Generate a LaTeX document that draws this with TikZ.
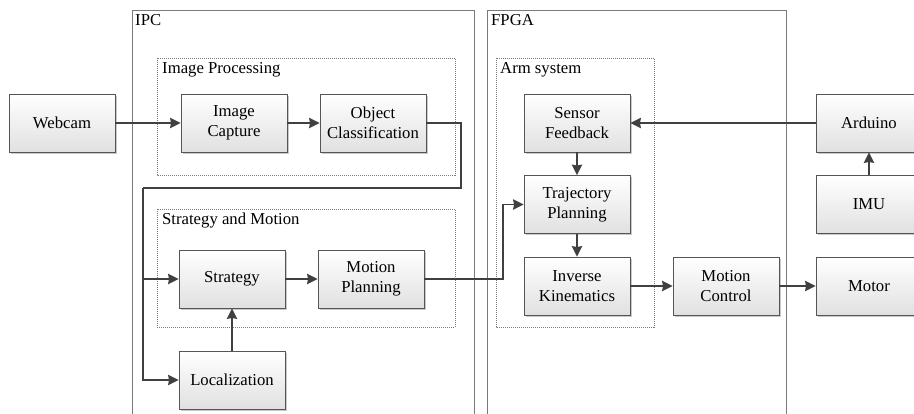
\documentclass[tikz,border=0pt]{standalone}
\usepackage{fontspec}
\setmainfont{Liberation Serif}
\usetikzlibrary{arrows.meta,shadows}

\definecolor{edgegray}{HTML}{555555}
\definecolor{wiregray}{HTML}{404040}
\definecolor{framegray}{HTML}{7A7A7A}

\tikzset{
  txt/.style={font=\fontsize{16.7}{20}\selectfont},
  block/.style={txt, draw=edgegray, line width=0.9pt,
    top color=white, bottom color=black!12,
    minimum width=106pt, minimum height=58pt, align=center, inner sep=0pt,
    drop shadow={shadow xshift=1.6pt, shadow yshift=-1.6pt, fill=black!35, opacity=0.6}},
  wire/.style={draw=wiregray, line width=1.4pt},
  flow/.style={wire, -{Stealth[length=10.5pt,width=10.5pt,inset=1pt]}},
  unit/.style={draw=framegray, line width=0.9pt},
  group/.style={draw=framegray, line width=0.7pt, dash pattern=on 1pt off 1pt},
  caption/.style={txt, anchor=base west, inner sep=0pt},
}

\begin{document}
\begin{tikzpicture}[x=1pt,y=-1pt]
\clip (0,0) rectangle (914,414);
\fill[white] (0,0) rectangle (914,414);

% hardware units (open at the bottom)
\draw[unit] (132,430) -- (132,10) -- (474,10) -- (474,430);
\draw[unit] (487,430) -- (487,10) -- (786,10) -- (786,430);
\node[caption] (ipc) at (135,26) {IPC};
\node[caption] (fpga) at (491,26) {FPGA};

% software groups
\draw[group] (157,58) rectangle (455,175);
\draw[group] (157,209) rectangle (455,327);
\draw[group] (496,58) rectangle (654,327);
\node[caption] (gimg) at (162,74) {Image Processing};
\node[caption] (gstr) at (162,225) {Strategy and Motion};
\node[caption] (garm) at (500,74) {Arm system};

% blocks
\node[block] (webcam) at (62,123) {Webcam};
\node[block] (cap)    at (234,123) {Image\\Capture};
\node[block] (cls)    at (373,123) {Object\\Classification};
\node[block] (strat)  at (232,279) {Strategy};
\node[block] (mplan)  at (371,279) {Motion\\Planning};
\node[block] (loc)    at (232,380) {Localization};
\node[block] (sens)   at (577,123) {Sensor\\Feedback};
\node[block] (traj)   at (577,204.5) {Trajectory\\Planning};
\node[block] (ik)     at (577,286) {Inverse\\Kinematics};
\node[block] (mctl)   at (726,286) {Motion\\Control};
\node[block] (ard)    at (869,123) {Arduino};
\node[block] (imu)    at (869,204.5) {IMU};
\node[block] (motor)  at (869,286) {Motor};

% routing points
\coordinate (r1) at (461,188);
\coordinate (l1) at (143,188);
\coordinate (b1) at (503,279);

% connectors
\draw[flow] (webcam) -- (cap);
\draw[flow] (cap) -- (cls);
\draw[wire] (cls.east) -| (r1) -- (l1);
\draw[flow] (l1) |- (strat.west);
\draw[flow] (l1) |- (loc.west);
\draw[flow] (strat) -- (mplan);
\draw[flow] (loc) -- (strat);
\draw[flow] (mplan.east) -- (b1) |- (traj.west);
\draw[flow] (ard) -- (sens);
\draw[flow] (imu) -- (ard);
\draw[flow] (sens) -- (traj);
\draw[flow] (traj) -- (ik);
\draw[flow] (ik) -- (mctl);
\draw[flow] (mctl) -- (motor);
\end{tikzpicture}
\end{document}
